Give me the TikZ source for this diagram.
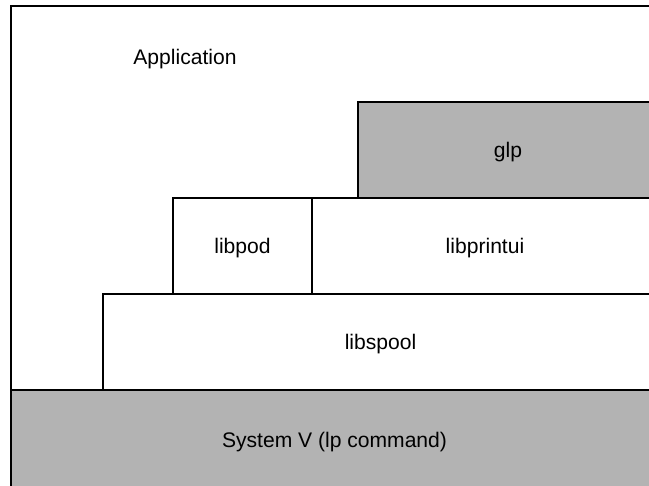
\documentclass[tikz,border=0pt]{standalone}
\usepackage{fontspec}
\setmainfont{Liberation Sans}
\definecolor{layergray}{RGB}{179,179,179}
\tikzstyle{layer}=[draw, line width=0.9pt, inner sep=0, outer sep=0, text depth=0pt, font=\fontsize{12}{14}\selectfont]
\tikzstyle{gray layer}=[layer, fill=layergray]
\tikzstyle{frame}=[layer]
\tikzstyle{caption}=[font=\fontsize{12}{14}\selectfont]

\begin{document}
\begin{tikzpicture}[x=0.02cm, y=-0.02cm]
      \useasboundingbox (0, 0) rectangle (649, 485);
      \clip (0, 0) rectangle (649, 485);

      \node[frame, minimum width=12.94cm, minimum height=9.72cm] (frame) at (334.5, 249) {};
      \node[caption] (application) at (185, 59) {Application};

      \node[gray layer, minimum width=12.94cm, minimum height=2cm] (sysv) at (334.5, 440) {System V (lp command)};
      \node[layer, minimum width=11.1cm, minimum height=1.92cm] (libspool) at (380.5, 342) {libspool};
      \node[layer, minimum width=2.78cm, minimum height=1.92cm] (libpod) at (242.5, 246) {libpod};
      \node[layer, minimum width=6.92cm, minimum height=1.92cm] (libprintui) at (485, 246) {libprintui};
      \node[gray layer, minimum width=6cm, minimum height=1.92cm] (glp) at (508, 150) {glp};
    \end{tikzpicture}
\end{document}
